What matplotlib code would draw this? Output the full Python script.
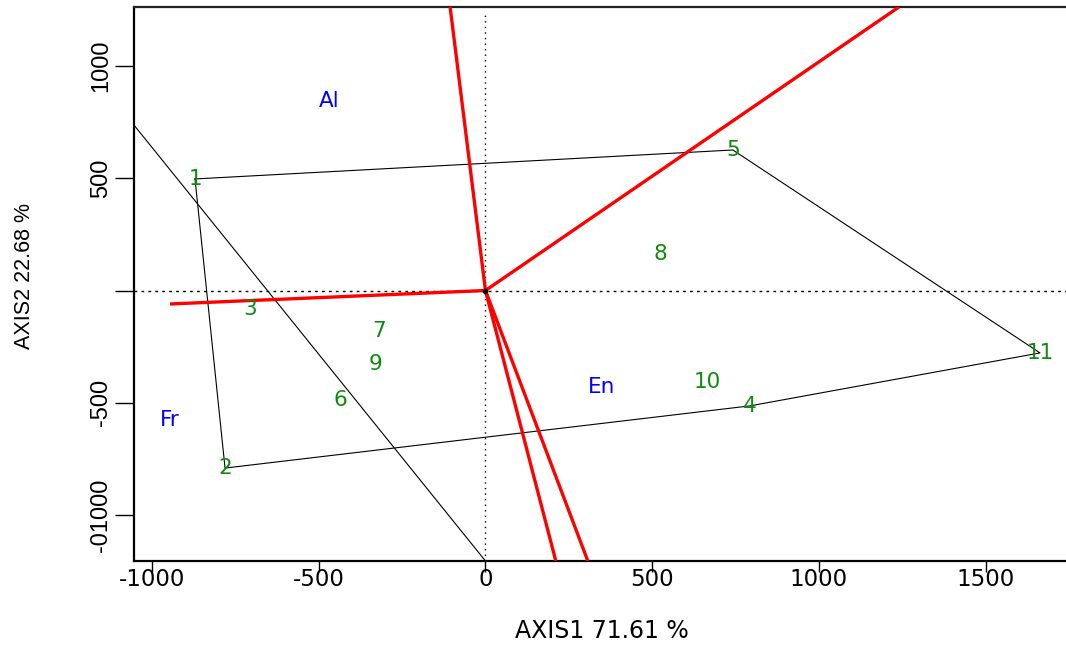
import numpy as np
import matplotlib
matplotlib.use('Agg')
from matplotlib import pyplot as plt
from matplotlib import font_manager

# genotype scores (green labels)
gen_labels = ['1', '2', '3', '4', '5', '6', '7', '8', '9', '10', '11']
gen_x = [-871, -781, -706, 793, 742, -436, -319, 526, -331, 664, 1663]
gen_y = [497, -791, -82, -514, 626, -488, -180, 163, -327, -408, -278]

# environment scores (blue labels)
env_labels = ['Al', 'En', 'Fr']
env_x = [-470, 349, -946]
env_y = [844, -430, -577]

# convex hull vertices (genotype order)
hull_order = ['1', '5', '11', '4', '2', '1']

# sector rays from the origin (end points)
ray_x = [-106, 211, 307, 1240, -946]
ray_y = [1263, -1205, -1205, 1263, -60]

# extra black line end points
line_x = [-1054, 0]
line_y = [737, -1205]

xticks = [-1000, -500, 0, 500, 1000, 1500]
xticklabels = ['-1000', '-500', '0', '500', '1000', '1500']
yticks = [1000, 500, 0, -500, -1000]
yticklabels = ['1000', '500', '', '-500', '-01000']

# the rotated texts look condensed in the original
try:
    font_manager.findfont('Liberation Sans Narrow', fallback_to_default=False)
    narrow, ysize, ylsize = ['Liberation Sans Narrow'], 20, 18
except ValueError:
    narrow, ysize, ylsize = ['Liberation Sans', 'DejaVu Sans'], 17, 15.5
wide = ['DejaVu Sans']

fig = plt.figure(figsize=(10.66, 6.46), dpi=100)
ax = fig.add_axes([134/1066, (646-561)/646, (1070-134)/1066, (561-7)/646])
ax.set_xlim(-1054, 1753)
ax.set_ylim(-1205, 1263)

# reference lines through origin
ax.axhline(0, color='black', lw=1.0, ls=(0, (2, 3)), zorder=1)
ax.axvline(0, ymax=(561-14)/554, color='black', lw=1.0, ls=(0, (1, 3)), zorder=1)

# polygon
idx = [gen_labels.index(g) for g in hull_order]
ax.plot([gen_x[i] for i in idx], [gen_y[i] for i in idx], color='black', lw=0.8, zorder=2)
ax.plot(line_x, line_y, color='black', lw=0.8, zorder=2)

# rays
for rx, ry in zip(ray_x, ray_y):
    ax.plot([0, rx], [0, ry], color='red', lw=2.4, solid_capstyle='butt', zorder=3)
ax.plot([0], [0], 'o', color='black', ms=3, zorder=4)

for lab, x, y in zip(gen_labels, gen_x, gen_y):
    ax.text(x, y, lab, color='#0f8a0f', fontsize=15.5, family=wide, ha='center', va='center', zorder=5)
for lab, x, y in zip(env_labels, env_x, env_y):
    ax.text(x, y, lab, color='#0000ff', fontsize=15.5, family=wide, ha='center', va='center', zorder=5)

ax.set_xticks(xticks)
ax.set_xticklabels(xticklabels, family=wide, fontsize=16.5)
ax.set_yticks(yticks)
ax.set_yticklabels(yticklabels, family=narrow, fontsize=ysize, rotation=90, va='center', ha='right')
ax.tick_params(axis='x', length=8, width=1.0, pad=-3)
ax.tick_params(axis='y', length=13.5, width=1.0, pad=2)

ax.spines['right'].set_visible(False)
for s in ['left', 'bottom']:
    ax.spines[s].set_linewidth(1.6)
ax.spines['top'].set_linewidth(1.6)
ax.spines['top'].set_color('#222222')

ax.set_xlabel('AXIS1 71.61 %', family=wide, fontsize=17)
ax.xaxis.set_label_coords(0.5, -0.126)
ax.xaxis.label.set_va('center')
ax.set_ylabel('AXIS2 22.68 %', family=narrow, fontsize=ylsize)
ax.yaxis.set_label_coords(-0.1165, 0.514)
ax.yaxis.label.set_va('center')

fig.savefig('out.png', dpi=100)
